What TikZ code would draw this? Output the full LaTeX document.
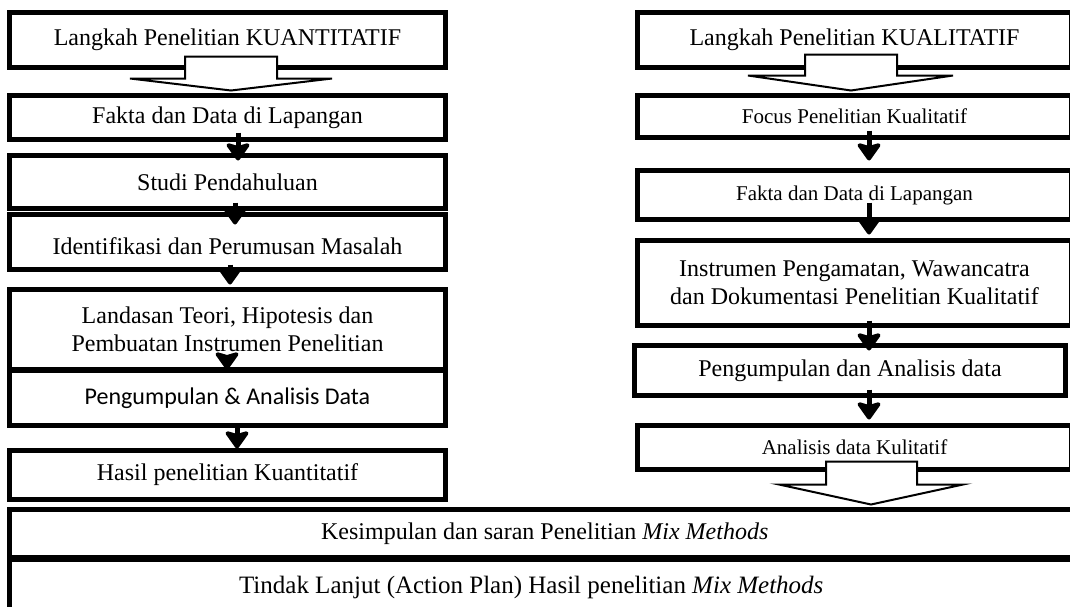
\documentclass[tikz,border=0pt]{standalone}
\usepackage{fontspec}
\setmainfont{Liberation Serif}
\newfontfamily\calfont{Carlito}
\usetikzlibrary{arrows.meta,calc}
\tikzset{
  box/.style={draw, line width=5pt, fill=white, inner sep=0pt, align=center,
    font=\fontsize{24}{28}\selectfont},
  smalltext/.style={font=\fontsize{21}{25}\selectfont},
  sarrow/.style={line width=5pt, -{Stealth[length=20pt,width=28pt,inset=4pt,round]}},
  barrow/.style={draw, line width=2pt, fill=white, line join=miter},
}
\begin{document}
\begin{tikzpicture}[x=1pt,y=-1pt]
\clip (0,0) rectangle (1070,606);
\fill[white] (0,0) rectangle (1070,606);
% left column
\node[box, minimum width=436pt, minimum height=55pt] (L1) at (227.5,40) {Langkah Penelitian KUANTITATIF};
\node[box, minimum width=436pt, minimum height=44pt] (L2) at (227.5,117.5) {Fakta dan Data di Lapangan};
\node[box, minimum width=436pt, minimum height=53pt] (L3) at (227.5,182) {Studi Pendahuluan};
\node[box, minimum width=436pt, minimum height=55pt, text height=29pt, text depth=5pt] (L4) at (227.5,242) {Identifikasi dan Perumusan Masalah};
\node[box, minimum width=436pt, minimum height=80pt] (L5) at (227.5,329.5) {Landasan Teori, Hipotesis dan\\Pembuatan Instrumen Penelitian};
\node[box, minimum width=436pt, minimum height=55pt] (L6) at (227.5,398) {\calfont Pengumpulan \& Analisis Data};
\node[box, minimum width=436pt, minimum height=49pt] (L7) at (227.5,475) {Hasil penelitian Kuantitatif};
% right column
\node[box, minimum width=434pt, minimum height=55pt] (R1) at (854.5,40) {Langkah Penelitian KUALITATIF};
\node[box, smalltext, minimum width=434pt, minimum height=42pt] (R2) at (854.5,116.5) {Focus Penelitian Kualitatif};
\node[box, smalltext, minimum width=434pt, minimum height=49pt] (R3) at (854.5,195) {Fakta dan Data di Lapangan};
\node[box, minimum width=434pt, minimum height=85pt] (R4) at (854.5,283) {Instrumen Pengamatan, Wawancatra\\dan Dokumentasi Penelitian Kualitatif};
\node[box, minimum width=431pt, minimum height=50pt] (R5) at (850,370.5) {Pengumpulan dan Analisis data};
\node[box, smalltext, minimum width=434pt, minimum height=44pt] (R6) at (854.5,447.5) {Analisis data Kulitatif};
% bottom
\node[box, minimum width=1070.5pt, minimum height=48pt] (B1) at (544.75,533.5) {Kesimpulan dan saran Penelitian \textit{Mix Methods}};
\node[box, font=\fontsize{25}{29}\selectfont, minimum width=1070.5pt, minimum height=55.5pt] (B2) at (544.75,587.25) {\hspace*{-27pt}Tindak Lanjut (Action Plan) Hasil penelitian \textit{Mix Methods}};
% block arrows
\draw[barrow] ($(L2.north)+(3.5,-2.5)$) coordinate (t1) -- ++(-101,-12) -- ++(55,0) -- ++(0,-22) -- ++(92,0) -- ++(0,22) -- ++(55,0) -- cycle;
\draw[barrow] ($(R2.north)+(-3.5,-2.5)$) coordinate (t2) -- ++(-103,-15) -- ++(57,0) -- ++(0,-21) -- ++(92,0) -- ++(0,21) -- ++(56,0) -- cycle;
\draw[barrow] ($(R6.south |- B1.north)+(16.5,-2.5)$) coordinate (t3) -- ++(-92,-20) -- ++(47,0) -- ++(0,-23) -- ++(91,0) -- ++(0,23) -- ++(46,0) -- cycle;
% small arrows left
\draw[sarrow] ($(L2.south)+(10.5,-9.5)$) -- ($(L3.north)+(10.5,7.5)$);
\draw[sarrow] ($(L3.south)+(7.5,-8.5)$) -- ($(L4.north)+(7.5,12.5)$);
\draw[sarrow] ($(L4.south)+(2.5,-7.5)$) -- ($(L5.north)+(2.5,-2.5)$);
\draw[sarrow] ($(L5.south)+(-0.5,-17.5)$) -- ($(L6.north)+(-0.5,1.5)$);
\draw[sarrow] ($(L6.south)+(9.5,-2.5)$) -- ($(L7.north)+(9.5,0.5)$);
% small arrows right
\draw[sarrow] ($(R2.south)+(14.5,-9.5)$) -- ($(R3.north)+(14.5,-7.5)$);
\draw[sarrow] ($(R3.south)+(14.5,-19.5)$) -- ($(R4.north)+(14.5,-3.5)$);
\draw[sarrow] ($(R4.south)+(14.5,-7.5)$) -- ($(R5.north)+(19,7.5)$);
\draw[sarrow] ($(R5.south)+(19,-8.5)$) -- ($(R6.north)+(14.5,-3.5)$);
\end{tikzpicture}
\end{document}
